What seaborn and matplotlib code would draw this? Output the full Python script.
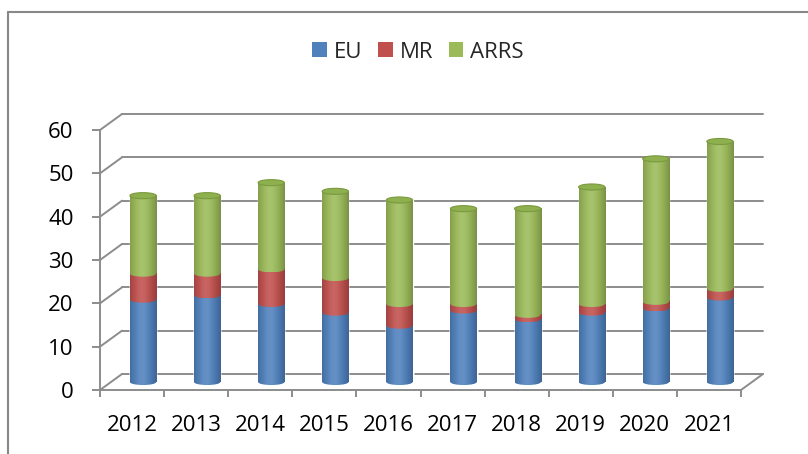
import numpy as np
import matplotlib
matplotlib.use("Agg")
import matplotlib.pyplot as plt
import matplotlib.transforms as mtrans
from matplotlib.patches import Ellipse, Patch, ConnectionPatch
from matplotlib.lines import Line2D
import seaborn as sns

# data
years = ['2012', '2013', '2014', '2015', '2016', '2017', '2018', '2019', '2020', '2021']
eu = [19, 20, 18, 16, 13, 16.5, 14.5, 16, 17, 19.5]
mr = [6, 5, 8, 8, 5, 1.5, 1, 2, 1.5, 2]
arrs = [18, 18, 20, 20, 24, 22, 24.5, 27, 33, 34]
series_names = ['EU', 'MR', 'ARRS']
colors = ['#4F81BD', '#C0504D', '#9BBB59']
y_ticks = [0, 10, 20, 30, 40, 50, 60]

GRID = '#8C8C8C'

sns.set_theme(style='white')
plt.rcParams['font.family'] = ['Open Sans', 'DejaVu Sans']

fig = plt.figure(figsize=(8.08, 4.54), dpi=100)
ax = fig.add_axes([100 / 808, 64 / 454, 641 / 808, 260 / 454])
ax.patch.set_alpha(0)

# depth offsets (pixels -> inches) for the pseudo 3D look
back = ax.transData + mtrans.ScaledTranslation(22 / 100, 16 / 100, fig.dpi_scale_trans)
mid = ax.transData + mtrans.ScaledTranslation(11 / 100, 8 / 100, fig.dpi_scale_trans)

# stacked bars, drawn as cumulative totals from the back
bottom_eu = np.array(eu)
top_mr = bottom_eu + np.array(mr)
total = top_mr + np.array(arrs)
stack_tops = [bottom_eu, top_mr, total]
bar_w = 0.41
for tops, c in zip(stack_tops[::-1], colors[::-1]):
    sns.barplot(x=years, y=tops, color=c, saturation=1, width=bar_w, ax=ax)


def cylinder_shade(hex_color, n=48):
    base = np.array(matplotlib.colors.to_rgb(hex_color))
    t = np.linspace(0, 1, n)
    dark = 0.22 * ((t - 0.45) / 0.55) ** 2
    light = 0.12 * np.exp(-((t - 0.45) / 0.25) ** 2)
    rgb = base[None, :] * (1 - dark[:, None]) + light[:, None] * (1 - base[None, :])
    return np.clip(rgb, 0, 1)[None, :, :]


grads = {c: cylinder_shade(c) for c in colors}
ell_h = 1.4
patch_groups = [ax.patches[20:30], ax.patches[10:20], ax.patches[0:10]]  # blue, red, green
lower_bounds = [np.zeros(len(years)), bottom_eu, top_mr]

z = 2
for grp, c in zip(patch_groups[::-1], colors[::-1]):
    for p in grp:
        p.set_transform(mid)
        x0, w, h = p.get_x(), p.get_width(), p.get_height()
        ax.imshow(grads[c], extent=[x0, x0 + w, 0, h], transform=mid,
                  aspect='auto', interpolation='bilinear', zorder=z)
    z += 0.1

# curved segment bottoms
for grp, c, lows in zip(patch_groups, colors, lower_bounds):
    for p, yb in zip(grp, lows):
        x0, w = p.get_x(), p.get_width()
        e = Ellipse((x0 + w / 2, yb), w, ell_h)
        e.set_transform(mid)
        im = ax.imshow(grads[c], extent=[x0, x0 + w, yb - ell_h / 2, yb + ell_h / 2],
                       transform=mid, aspect='auto', interpolation='bilinear', zorder=z)
        im.set_clip_path(e)
    z += 0.1

# top caps
for p, yt in zip(patch_groups[2], total):
    x0, w = p.get_x(), p.get_width()
    ax.add_patch(Ellipse((x0 + w / 2, yt), w, ell_h, facecolor='#8FB04F',
                         edgecolor='#7A9A3E', lw=0.8, transform=mid, zorder=z))

# back wall gridlines and side connectors
for yv in y_ticks:
    ax.plot([-0.5, 9.5], [yv, yv], color=GRID, lw=1.4, transform=back,
            clip_on=False, zorder=0.5)
    ax.add_artist(ConnectionPatch(xyA=(-0.5, yv), coordsA=ax.transData,
                                  xyB=(-0.5, yv), coordsB=back,
                                  color=GRID, lw=1.4, zorder=0.5))
ax.add_artist(ConnectionPatch(xyA=(9.5, 0), coordsA=ax.transData,
                              xyB=(9.5, 0), coordsB=back,
                              color=GRID, lw=1.4, zorder=0.5))

ax.set_xlim(-0.5, 9.5)
ax.set_ylim(0, 60)
ax.set_yticks(y_ticks)
ax.set_xticks(range(len(years)))
ax.set_xticklabels(years)
ax.set_xticks(np.arange(-0.5, 10, 1), minor=True)
ax.set_xlabel('')
ax.set_ylabel('')
for s in ['top', 'right']:
    ax.spines[s].set_visible(False)
for s in ['left', 'bottom']:
    ax.spines[s].set_color(GRID)
    ax.spines[s].set_linewidth(1.4)
ax.tick_params(axis='y', left=True, length=6, width=1.4, color=GRID, pad=13,
               labelsize=16, labelcolor='black')
ax.tick_params(axis='x', which='major', bottom=True, length=0, pad=18,
               labelsize=16, labelcolor='black')
ax.tick_params(axis='x', which='minor', bottom=True, length=5, width=1.4, color=GRID)

handles = [Patch(facecolor=c, edgecolor='none') for c in colors]
fig.legend(handles, series_names, loc='center', bbox_to_anchor=(418 / 808, 1 - 52 / 454),
           ncol=3, frameon=False, fontsize=16, handlelength=0.67, handleheight=0.67,
           handletextpad=0.3, columnspacing=0.7)

# chart frame (only top and left edges visible in the reference)
fig.add_artist(Line2D([8 / 808, 8 / 808], [0, 1 - 12 / 454], transform=fig.transFigure,
                      color='#888888', lw=1.5))
fig.add_artist(Line2D([8 / 808, 1], [1 - 12 / 454, 1 - 12 / 454], transform=fig.transFigure,
                      color='#888888', lw=1.5))

fig.savefig('out.png', dpi=100)
